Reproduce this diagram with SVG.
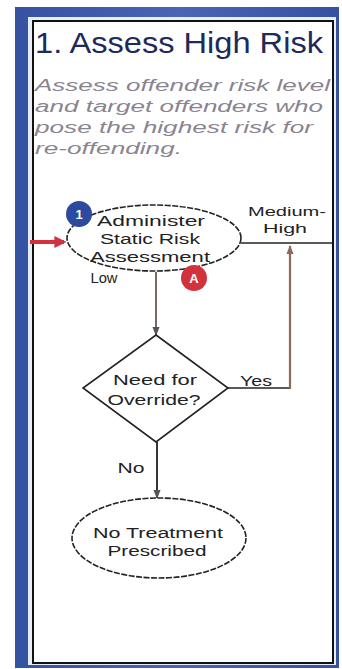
<svg xmlns="http://www.w3.org/2000/svg" width="342" height="669" viewBox="0 0 342 669">
<defs>
<style>
.lbl{font-family:"Liberation Sans",Arial,sans-serif;font-size:14px;fill:#222;}
.sm{font-size:12.5px;}
.node{fill:#fff;stroke:#222;stroke-width:1.6;}
.dash{stroke-dasharray:6 1.5;}
.ln{fill:none;stroke:#222;stroke-width:1.6;}
.br{fill:none;stroke:#8b6a58;stroke-width:2.2;}
</style>
<marker id="ah" viewBox="0 0 10 10" refX="9" refY="5" markerWidth="5" markerHeight="5" orient="auto"><path d="M0,1 L10,5 L0,9 z" fill="#555"/></marker>
<marker id="ahb" viewBox="0 0 10 10" refX="9" refY="5" markerWidth="4" markerHeight="4" orient="auto"><path d="M0,1 L10,5 L0,9 z" fill="#8b6a58"/></marker>
<marker id="ahr" viewBox="0 0 10 10" refX="8" refY="5" markerWidth="3" markerHeight="3" orient="auto"><path d="M0,0 L10,5 L0,10 z" fill="#d2323c"/></marker>
<linearGradient id="bg" x1="0" y1="0" x2="1" y2="0"><stop offset="0" stop-color="#3552a0"/><stop offset="0.5" stop-color="#4866b4"/><stop offset="1" stop-color="#3552a0"/></linearGradient>
</defs>
<rect width="342" height="669" fill="#fff"/>
<g id="frame">
<rect x="15" y="7" width="324" height="661" fill="url(#bg)"/>
<rect x="28" y="17" width="308" height="648" fill="#e8eef8"/>
<rect x="33" y="21" width="300" height="642" fill="#fff" stroke="#111" stroke-width="2"/>
</g>
<g id="title">
<text x="35" y="53" font-family="'Liberation Sans',Arial,sans-serif" font-size="29" fill="#1e2a5a" textLength="288" lengthAdjust="spacingAndGlyphs">1. Assess High Risk</text>
</g>
<g id="subtitle" font-family="'Liberation Sans',Arial,sans-serif" font-size="16" font-style="italic" fill="#8a8490">
<text x="35" y="91" textLength="295" lengthAdjust="spacingAndGlyphs">Assess offender risk level</text>
<text x="35" y="112" textLength="288" lengthAdjust="spacingAndGlyphs">and target offenders who</text>
<text x="35" y="133" textLength="278" lengthAdjust="spacingAndGlyphs">pose the highest risk for</text>
<text x="35" y="154" textLength="147" lengthAdjust="spacingAndGlyphs">re-offending.</text>
</g>
<g id="connectors">
<line x1="30" y1="242" x2="64" y2="242" stroke="#d2323c" stroke-width="4" marker-end="url(#ahr)"/>
<line x1="241" y1="243" x2="333" y2="243" class="ln"/>
<line x1="156" y1="272" x2="156" y2="335" stroke="#6a5a50" stroke-width="1.8" marker-end="url(#ah)"/>
<line x1="228" y1="388" x2="290" y2="388" class="ln"/>
<path d="M290,389 L290,246" class="br" marker-end="url(#ahb)"/>
<line x1="157" y1="442" x2="157" y2="498" stroke="#222" stroke-width="1.8" marker-end="url(#ah)"/>
<text class="lbl sm" x="287" y="216" text-anchor="middle" textLength="78" lengthAdjust="spacingAndGlyphs">Medium-</text>
<text class="lbl sm" x="285" y="233" text-anchor="middle" textLength="44" lengthAdjust="spacingAndGlyphs">High</text>
<text class="lbl" x="104" y="283" text-anchor="middle" textLength="27" lengthAdjust="spacingAndGlyphs">Low</text>
<text class="lbl" x="256" y="386" text-anchor="middle" textLength="32" lengthAdjust="spacingAndGlyphs">Yes</text>
<text class="lbl" x="131" y="473" text-anchor="middle" textLength="27" lengthAdjust="spacingAndGlyphs">No</text>
</g>
<g id="assess">
<ellipse cx="154" cy="238" rx="87" ry="33" class="node dash"/>
<text class="lbl" x="151" y="226" text-anchor="middle" textLength="108" lengthAdjust="spacingAndGlyphs">Administer</text>
<text class="lbl" x="150" y="244" text-anchor="middle" textLength="100" lengthAdjust="spacingAndGlyphs">Static Risk</text>
<text class="lbl" x="150" y="262" text-anchor="middle" textLength="120" lengthAdjust="spacingAndGlyphs">Assessment</text>
</g>
<g id="badge1">
<circle cx="79" cy="214" r="13" fill="#2b4aa0"/>
<text x="79" y="219" text-anchor="middle" font-family="'Liberation Sans',Arial,sans-serif" font-size="13" font-weight="bold" fill="#fff">1</text>
</g>
<g id="badgeA">
<circle cx="194" cy="278" r="13" fill="#d2323c"/>
<text x="194" y="283" text-anchor="middle" font-family="'Liberation Sans',Arial,sans-serif" font-size="13" font-weight="bold" fill="#fff">A</text>
</g>
<g id="override">
<polygon points="156,335 228,388 156,442 83,388" class="node"/>
<text class="lbl" x="155" y="385" text-anchor="middle" textLength="84" lengthAdjust="spacingAndGlyphs">Need for</text>
<text class="lbl" x="154" y="405" text-anchor="middle" textLength="93" lengthAdjust="spacingAndGlyphs">Override?</text>
</g>
<g id="notreatment">
<ellipse cx="159" cy="538" rx="87" ry="40" class="node dash"/>
<text class="lbl" x="158" y="538" text-anchor="middle" textLength="130" lengthAdjust="spacingAndGlyphs">No Treatment</text>
<text class="lbl" x="157" y="556" text-anchor="middle" textLength="99" lengthAdjust="spacingAndGlyphs">Prescribed</text>
</g>
</svg>
